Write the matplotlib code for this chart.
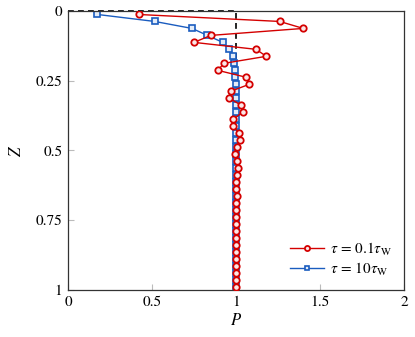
import matplotlib.pyplot as plt
import numpy as np

plt.rcParams["font.family"] = ["STIXGeneral", "DejaVu Serif"]
plt.rcParams["mathtext.fontset"] = "stix"

# cell-centre depths, 40 cells
z = (np.arange(40) + 0.5) / 40

p_fast = [0.42, 1.26, 1.40, 0.85, 0.75, 1.12, 1.18, 0.93, 0.89, 1.06,
          1.08, 0.97, 0.96, 1.03, 1.04, 0.985, 0.98, 1.02, 1.024, 1.004,
          0.994, 1.008, 1.014, 1.004, 1.0, 0.997, 1.003, 0.998, 1.001, 1.0,
          1.0, 1.0, 1.0, 1.0, 1.0, 1.0, 1.0, 1.0, 1.0, 1.0]
p_slow = [0.175, 0.516, 0.738, 0.83, 0.921, 0.957, 0.98, 0.99, 0.994, 0.996,
          0.998, 0.999, 1.0, 1.0, 1.0, 1.0, 1.0, 1.0, 1.0, 1.0,
          1.0, 1.0, 1.0, 1.0, 1.0, 1.0, 1.0, 1.0, 1.0, 1.0,
          1.0, 1.0, 1.0, 1.0, 1.0, 1.0, 1.0, 1.0, 1.0, 1.0]

ref_p = [0, 1, 1]
ref_z = [0, 0, 1]

RED = "#d40000"
BLUE = "#1a5cbf"

fig = plt.figure(figsize=(4.15, 3.37), dpi=100)
ax = fig.add_axes([0.1639, 0.1395, 0.8096, 0.8279])

ax.plot(ref_p, ref_z, color="black", linestyle=(0, (3.5, 2.5)), linewidth=1.2,
        zorder=1, clip_on=False)
ax.plot(p_fast, z, color=RED, linewidth=1.0, marker="o", markersize=4.6,
        markerfacecolor="#fbe6e6", markeredgewidth=1.3,
        label=r"$\tau\,=\,0.1\tau_{\mathrm{W}}$", zorder=3)
ax.plot(p_slow, z, color=BLUE, linewidth=1.0, marker="s", markersize=4.0,
        markerfacecolor="#e3ecf8", markeredgewidth=1.2,
        label=r"$\tau\,=\,10\tau_{\mathrm{W}}$", zorder=2)

ax.set_xlim(0, 2)
ax.set_ylim(1, 0)
ax.set_xticks([0, 0.5, 1, 1.5, 2])
ax.set_xticklabels(["0", "0.5", "1", "1.5", "2"])
ax.set_yticks([0, 0.25, 0.5, 0.75, 1])
ax.set_yticklabels(["0", "0.25", "0.5", "0.75", "1"])
ax.tick_params(direction="in", length=4, width=0.8, color="#bbbbbb",
               labelsize=11, pad=4)
for s in ax.spines.values():
    s.set_color("#333333")
    s.set_linewidth(0.9)

ax.set_xlabel(r"$P$", fontsize=12, labelpad=3)
ax.set_ylabel(r"$Z$", fontsize=12, labelpad=8)

ax.legend(loc="lower right", frameon=False, fontsize=11, handlelength=2.2,
          handletextpad=0.4, labelspacing=0.2, borderaxespad=0.4,
          markerscale=0.8)

fig.savefig("out.png", dpi=100)
